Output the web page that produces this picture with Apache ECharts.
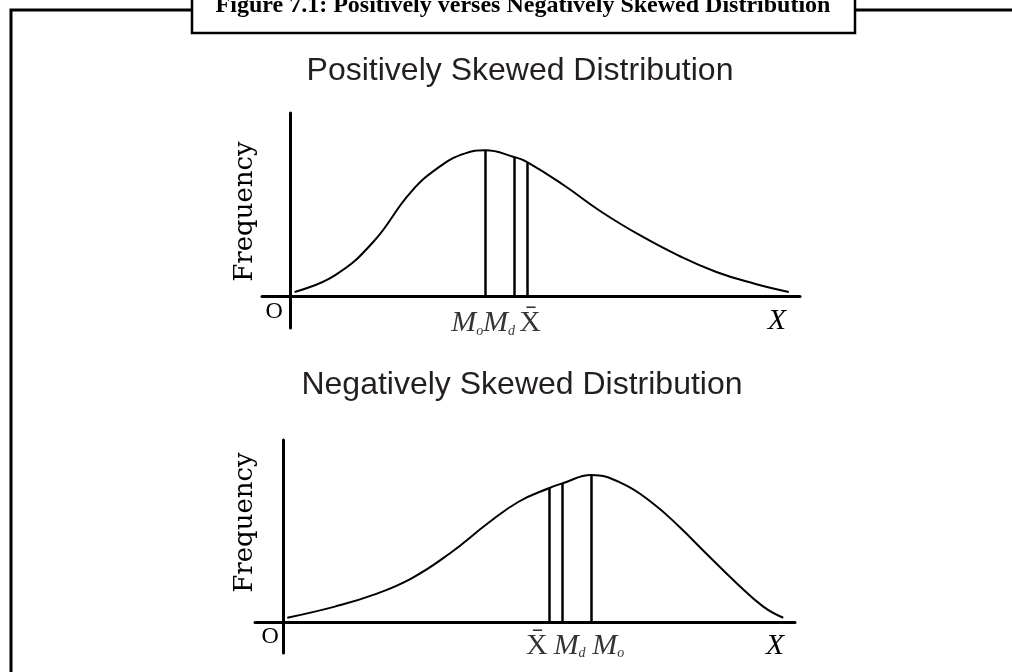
<!DOCTYPE html>
<html>
<head>
<meta charset="utf-8">
<title>Positively verses Negatively Skewed Distribution</title>
<script src="https://cdn.jsdelivr.net/npm/echarts@6/dist/echarts.min.js"></script>
<style>
  html, body { margin: 0; padding: 0; background: #fff; }
  #chart { width: 1012px; height: 672px; }
</style>
</head>
<body>
<div id="chart"></div>
<script>
// curve of the positively skewed distribution (x, frequency)
const posX = [0.9, 8.8, 16.3, 23.7, 29.7, 34.2, 38.3, 43.9, 46.5, 53.7, 61.1, 68.6, 76.1, 83.6, 91.1, 97.8];
const posY = [2.2, 11.3, 29.5, 56.8, 71.4, 77.8, 79.6, 76.0, 73.2, 60.5, 45.9, 33.2, 22.2, 13.1, 6.7, 2.2];
// mode, median, mean
const posMarkNames = ['mo', 'md', 'mean'];
const posMarkX = [38.3, 43.9, 46.5];
const posMarkY = [79.6, 76.0, 73.2];

// curve of the negatively skewed distribution
const negX = [0.8, 10.1, 17.6, 25.1, 32.6, 40.0, 46.0, 51.9, 54.6, 60.2, 66.2, 72.2, 77.4, 82.6, 88.6, 93.8, 97.7];
const negY = [2.7, 8.8, 15.2, 24.3, 38.0, 54.4, 66.2, 73.6, 76.3, 80.8, 76.3, 65.4, 52.5, 38.0, 21.6, 8.8, 2.7];
// mean, median, mode
const negMarkNames = ['mean', 'md', 'mo'];
const negMarkX = [51.9, 54.6, 60.2];
const negMarkY = [73.6, 76.3, 80.8];

const markText = {
  mo: '{m|M}{s|o}',
  md: '{m|M}{s|d}',
  mean: '{x|X\u0304}'
};

const serif = 'Liberation Serif';
const labelRich = {
  m: { fontFamily: serif, fontStyle: 'italic', fontSize: 30, lineHeight: 30, color: '#000' },
  s: { fontFamily: serif, fontStyle: 'italic', fontSize: 14, lineHeight: 10, verticalAlign: 'bottom', color: '#000' },
  x: { fontFamily: serif, fontSize: 30, lineHeight: 30, color: '#000' }
};

function zip(xs, ys) {
  return xs.map((x, i) => [x, ys[i]]);
}

function markLines(xs, ys) {
  return xs.map((x, i) => [{ coord: [x, 0] }, { coord: [x, ys[i]] }]);
}

function markLabels(names, xs, offsets) {
  return names.map((n, i) => ({
    value: [xs[i], 0],
    name: n,
    label: { offset: [offsets[i], 0] }
  }));
}

function xAxisFor(gridIndex, gap, pad, oPad) {
  return {
    gridIndex: gridIndex,
    type: 'value',
    min: -5.5,
    max: 100,
    name: 'X',
    nameLocation: 'end',
    nameGap: gap,
    nameTextStyle: {
      fontFamily: serif, fontStyle: 'italic', fontSize: 30, color: '#000',
      align: 'center', verticalAlign: 'top', padding: [pad, 0, 0, 0]
    },
    axisLine: { onZero: true, lineStyle: { color: '#000', width: 3 } },
    axisTick: { show: false },
    splitLine: { show: false },
    axisLabel: {
      // "O" at the origin; labels stay at the grid edge, so pull it up
      customValues: [0],
      formatter: () => 'O',
      fontFamily: serif, fontSize: 24, lineHeight: 24, color: '#000',
      margin: -28,
      padding: [0, oPad, 0, 0]
    }
  };
}

function yAxisFor(gridIndex, min, gap, shift) {
  return {
    gridIndex: gridIndex,
    type: 'value',
    min: min,
    max: 100,
    name: 'Frequency',
    nameLocation: 'middle',
    nameRotate: 90,
    nameGap: gap,
    nameTextStyle: {
      fontFamily: 'DejaVu Serif', fontSize: 26, color: '#000',
      padding: [0, 0, 0, shift]
    },
    axisLine: { onZero: true, lineStyle: { color: '#000', width: 3 } },
    axisTick: { show: false },
    splitLine: { show: false },
    axisLabel: { show: false }
  };
}

function curveSeries(idx, xs, ys, mx, my) {
  return {
    type: 'line',
    xAxisIndex: idx,
    yAxisIndex: idx,
    data: zip(xs, ys),
    smooth: 0.45,
    symbol: 'none',
    silent: true,
    lineStyle: { color: '#000', width: 2 },
    markLine: {
      silent: true,
      symbol: ['none', 'none'],
      label: { show: false },
      lineStyle: { color: '#000', width: 2.5, type: 'solid' },
      data: markLines(mx, my)
    }
  };
}

function labelSeries(idx, names, xs, offsets, dist) {
  return {
    type: 'scatter',
    xAxisIndex: idx,
    yAxisIndex: idx,
    symbolSize: 0,
    silent: true,
    data: markLabels(names, xs, offsets),
    label: {
      show: true,
      position: 'bottom',
      distance: dist,
      formatter: p => markText[p.name],
      rich: labelRich
    }
  };
}

const chart = echarts.init(document.getElementById('chart'));

const option = {
  animation: false,
  backgroundColor: '#fff',
  title: [
    {
      text: 'Figure 7.1: Positively verses Negatively Skewed Distribution',
      left: 523, top: -6, textAlign: 'center', padding: 0, z: 10,
      textStyle: { fontFamily: serif, fontWeight: 'bold', fontSize: 24, color: '#000' }
    },
    {
      text: 'Positively Skewed Distribution',
      left: 520, top: 55, textAlign: 'center', padding: 0,
      textStyle: { fontFamily: 'Liberation Sans', fontWeight: 'normal', fontSize: 32, color: '#231f20' }
    },
    {
      text: 'Negatively Skewed Distribution',
      left: 522, top: 369, textAlign: 'center', padding: 0,
      textStyle: { fontFamily: 'Liberation Sans', fontWeight: 'normal', fontSize: 32, color: '#231f20' }
    }
  ],
  graphic: [
    {
      type: 'polyline', z: 0,
      shape: { points: [[11, 672], [11, 10], [1012, 10]] },
      style: { stroke: '#000', lineWidth: 3, fill: null }
    },
    {
      type: 'rect', z: 1,
      shape: { x: 192, y: -10, width: 663, height: 43 },
      style: { fill: '#fff', stroke: '#000', lineWidth: 2.5 }
    }
  ],
  grid: [
    { left: 262, top: 113, width: 538, height: 215 },
    { left: 255, top: 440, width: 540, height: 213 }
  ],
  xAxis: [
    xAxisFor(0, -23, 10, 32),
    xAxisFor(1, -20, 8, 26)
  ],
  yAxis: [
    yAxisFor(0, -17.5, 4, 18),
    yAxisFor(1, -16.6, -3, 48)
  ],
  series: [
    curveSeries(0, posX, posY, posMarkX, posMarkY),
    curveSeries(1, negX, negY, negMarkX, negMarkY),
    labelSeries(0, posMarkNames, posMarkX, [-18, -15, 3], 12),
    labelSeries(1, negMarkNames, negMarkX, [-12, 7, 17], 8)
  ]
};

chart.setOption(option);
</script>
</body>
</html>
